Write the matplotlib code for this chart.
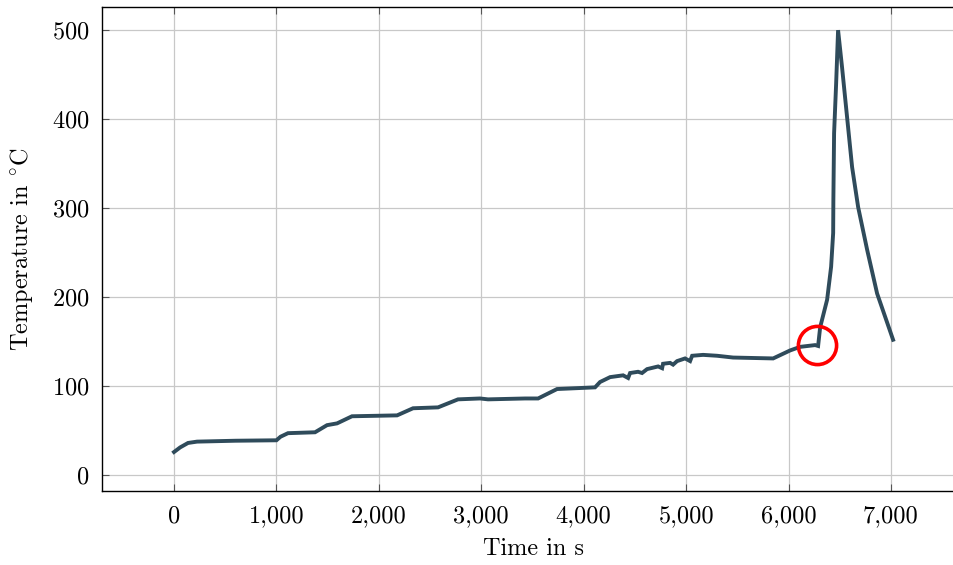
import matplotlib
matplotlib.use("Agg")
import matplotlib.pyplot as plt

plt.rcParams['font.family'] = 'serif'
plt.rcParams['font.serif'] = ['cmr10']
plt.rcParams['mathtext.fontset'] = 'cm'
plt.rcParams['axes.formatter.use_mathtext'] = True

time_s = [0, 60, 137, 225, 600, 1000, 1040, 1113, 1377, 1494, 1592, 1738, 2178,
          2334, 2578, 2773, 2988, 3066, 3428, 3555, 3740, 4111, 4160, 4258, 4385,
          4434, 4453, 4531, 4570, 4619, 4727, 4766, 4775, 4844, 4873, 4912, 4990,
          5039, 5059, 5166, 5303, 5459, 5850, 6016, 6113, 6260, 6289, 6309, 6377,
          6416, 6436, 6438, 6445, 6465, 6484, 6523, 6572, 6621, 6680, 6768, 6865,
          7021]
temp_c = [25.8, 31, 36, 37.5, 38.5, 39, 43, 47, 48, 56, 58, 66, 67,
          75, 76, 85, 86, 85, 86, 86, 96.6, 98.5, 104.5, 110, 112,
          109, 114.6, 116, 114.6, 119, 122, 120, 125, 126, 124, 128, 131,
          128, 134, 135, 134, 132, 131, 140, 144, 146, 145, 166, 197,
          234, 272, 309, 384, 440, 500, 458, 402, 346, 301, 253, 204,
          152]

# highlighted point
mark_t = [6279]
mark_T = [146]

xticks = [0, 1000, 2000, 3000, 4000, 5000, 6000, 7000]
xtick_labels = ['0', '1,000', '2,000', '3,000', '4,000', '5,000', '6,000', '7,000']
yticks = [0, 100, 200, 300, 400, 500]

fig = plt.figure(figsize=(9.54, 5.65), dpi=100)
ax = fig.add_axes([102/954, 1-491/565, (966-102)/954, (491-7)/565])

ax.plot(time_s, temp_c, color='#2f4b5b', lw=2.8, solid_joinstyle='miter')
ax.plot(mark_t, mark_T, 'o', ms=27.5, mfc='none', mec='#ff0000', mew=2.6)

ax.set_xlim(-703, 7733)
ax.set_ylim(-18, 526)
ax.set_xticks(xticks)
ax.set_xticklabels(xtick_labels)
ax.set_yticks(yticks)
ax.grid(True, color='#c8c8c8', lw=0.9)
ax.set_axisbelow(True)
ax.tick_params(direction='in', length=5, width=0.8, color='#555555',
               labelsize=17.5, top=True)
ax.tick_params(axis='x', pad=10)
ax.tick_params(axis='y', pad=9)
ax.spines['right'].set_visible(False)
for s in ['left', 'bottom', 'top']:
    ax.spines[s].set_linewidth(1.0)

ax.set_xlabel('Time in s', fontsize=17.5, labelpad=8)
ax.set_ylabel(r'Temperature in ${}^{\circ}\mathrm{C}$', fontsize=17.5, labelpad=12)

fig.savefig('out.png', dpi=100)
